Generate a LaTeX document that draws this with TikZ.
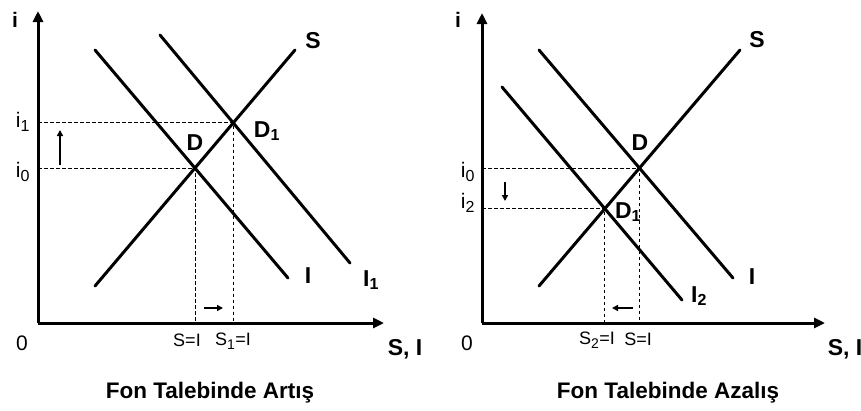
\documentclass[tikz,border=0pt]{standalone}
\usepackage{fontspec}
\setmainfont{Liberation Sans}
\usetikzlibrary{arrows.meta}
\newcommand{\subn}[1]{$_{\mbox{\fontsize{16}{18}\selectfont #1}}$}
\newcommand{\subs}[1]{$_{\mbox{\fontsize{14}{16}\selectfont #1}}$}
\begin{document}
\begin{tikzpicture}[x=1pt,y=-1pt,
  curve/.style={line width=3pt,line cap=round},
  axis/.style={line width=3pt,-{Triangle[length=11pt,width=10pt]}},
  guide/.style={line width=0.8pt,dash pattern=on 3.5pt off 2.5pt},
  movearrow/.style={line width=2pt,-{Triangle[length=6pt,width=6pt]}},
  blab/.style={font=\fontsize{23}{27}\selectfont\bfseries,inner sep=0pt},
  rlab/.style={font=\fontsize{21}{25}\selectfont,inner sep=0pt},
  slab/.style={font=\fontsize{18}{21}\selectfont,inner sep=0pt},
  title/.style={font=\fontsize{22.5}{27}\selectfont\bfseries,inner sep=0pt}]
\useasboundingbox (0,0) rectangle (861,410);
% ---------- left panel ----------
\coordinate (LO) at (38,323);
\coordinate (LYtop) at (38,11);
\coordinate (LXend) at (384,323);
\coordinate (LSa) at (95,286);  \coordinate (LSb) at (295,50);
\coordinate (LIa) at (95,50);   \coordinate (LIb) at (288,278);
\coordinate (LJa) at (160,35);  \coordinate (LJb) at (350,263);
\coordinate (LD)  at (intersection of LSa--LSb and LIa--LIb);
\coordinate (LD1) at (intersection of LSa--LSb and LJa--LJb);
\coordinate (LDx) at (LD |- LO);  \coordinate (LDy) at (LD -| LO);
\coordinate (LD1x) at (LD1 |- LO); \coordinate (LD1y) at (LD1 -| LO);
\draw[guide] (LDy) -- (LD) -- (LDx);
\draw[guide] (LD1y) -- (LD1) -- (LD1x);
\draw[curve] (LSa) -- (LSb);
\draw[curve] (LIa) -- (LIb);
\draw[curve] (LJa) -- (LJb);
\draw[axis] (LO) -- (LYtop);
\draw[axis] (LO) -- (LXend);
\coordinate (LUa) at (60,165); \coordinate (LUb) at (60,130);
\draw[movearrow] (LUa) -- (LUb);
\coordinate (LRa) at (204,308); \coordinate (LRb) at (223,308);
\draw[movearrow] (LRa) -- (LRb);
\node[rlab] (Li) at (15,20) {\bfseries i};
\node[rlab] (Li1) at (23,122) {i\subn{1}};
\node[rlab] (Li0) at (23,172) {i\subn{0}};
\node[rlab] (L0) at (22,343) {0};
\node[blab] (LSl) at (313,41) {S};
\node[blab] (LDl) at (195,143) {D};
\node[blab] (LD1l) at (267,131) {D\subn{1}};
\node[blab] (LIl) at (308,276) {I};
\node[blab] (LI1l) at (371,280) {I\subn{1}};
\node[slab] (LSI) at (187,340) {S=I};
\node[slab] (LS1I) at (233,341) {S\subs{1}=I};
\node[blab] (LSIax) at (405,349) {S, I};
\node[title] (Lt) at (210,393) {Fon Talebinde Artış};
% ---------- right panel ----------
\coordinate (RO) at (482,323);
\coordinate (RYtop) at (482,13);
\coordinate (RXend) at (825,323);
\coordinate (RSa) at (539,286); \coordinate (RSb) at (740,50);
\coordinate (RIa) at (539,50);  \coordinate (RIb) at (733,278);
\coordinate (RJa) at (502,87);  \coordinate (RJb) at (682,300);
\coordinate (RD)  at (intersection of RSa--RSb and RIa--RIb);
\coordinate (RD1) at (intersection of RSa--RSb and RJa--RJb);
\coordinate (RDx) at (RD |- RO);  \coordinate (RDy) at (RD -| RO);
\coordinate (RD1x) at (RD1 |- RO); \coordinate (RD1y) at (RD1 -| RO);
\draw[guide] (RDy) -- (RD) -- (RDx);
\draw[guide] (RD1y) -- (RD1) -- (RD1x);
\draw[curve] (RSa) -- (RSb);
\draw[curve] (RIa) -- (RIb);
\draw[curve] (RJa) -- (RJb);
\draw[axis] (RO) -- (RYtop);
\draw[axis] (RO) -- (RXend);
\coordinate (RUa) at (505,182); \coordinate (RUb) at (505,201);
\draw[movearrow] (RUa) -- (RUb);
\coordinate (RLa) at (633,308); \coordinate (RLb) at (612,308);
\draw[movearrow] (RLa) -- (RLb);
\node[rlab] (Ri) at (458,20) {\bfseries i};
\node[rlab] (Ri0) at (468,172) {i\subn{0}};
\node[rlab] (Ri2) at (468,203) {i\subn{2}};
\node[rlab] (R0) at (467,343) {0};
\node[blab] (RSl) at (757,40) {S};
\node[blab] (RDl) at (640,143) {D};
\node[blab] (RD1l) at (628,212) {D\subn{1}};
\node[blab] (RIl) at (752,277) {I};
\node[blab] (RI2l) at (699,296) {I\subn{2}};
\node[slab] (RS2I) at (597,340) {S\subs{2}=I};
\node[slab] (RSI) at (638,339) {S=I};
\node[blab] (RSIax) at (845,349) {S, I};
\node[title] (Rt) at (668,393) {Fon Talebinde Azalış};
\end{tikzpicture}
\end{document}
